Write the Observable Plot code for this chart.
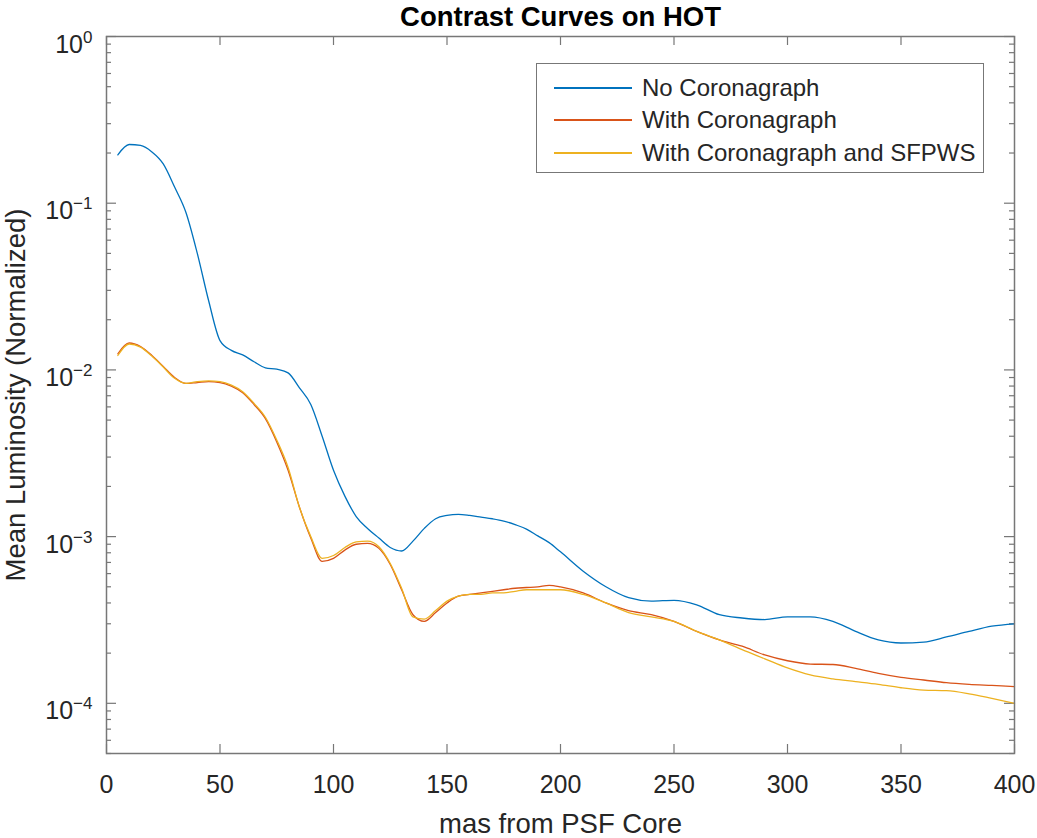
<!DOCTYPE html>
<html><head><meta charset="utf-8">
<script src="https://cdn.jsdelivr.net/npm/d3@7"></script>
<script src="https://cdn.jsdelivr.net/npm/@observablehq/plot@0.6"></script>
<style>
body{margin:0;background:#fff;}
#wrap{position:relative;width:1037px;height:838px;font-family:"Liberation Sans",Arial,sans-serif;}
#legend{position:absolute;left:536px;top:63px;width:446px;height:108px;border:1.5px solid #777;background:#fff;}
.row{position:absolute;left:0;height:30px;display:flex;align-items:center;white-space:nowrap;}
.sw{display:inline-block;width:78px;height:1.3px;margin-left:17px;margin-right:10px;}
.lab{font-size:24px;color:#262626;}
</style>
</head><body>
<div id="wrap"><div id="legend"></div></div>
<script>
// ---- data ----
const mas = [5,10,15,20,25,30,35,40,45,50,55,60,65,70,75,80,85,90,95,100,
  105,110,115,120,125,130,135,140,145,150,155,160,165,170,175,180,185,190,195,200,
  210,220,230,240,250,260,270,280,290,300,310,320,330,340,350,360,370,380,390,400];
const noCoronagraph = [0.195,0.225,0.222,0.203,0.172,0.125,0.088,0.050,0.026,0.015,
  0.0131,0.0123,0.0112,0.0103,0.0101,0.0096,0.0078,0.0062,0.0040,0.0025,
  0.00175,0.00132,0.00112,0.00098,0.00086,0.00082,0.00094,0.00112,0.00128,0.00134,
  0.00136,0.00134,0.00131,0.00128,0.00124,0.00118,0.00111,0.00101,0.00092,0.00081,
  0.00062,0.00050,0.00043,0.00041,0.000415,0.00039,0.00034,0.000325,0.000318,0.00033,
  0.00033,0.00031,0.00027,0.00024,0.00023,0.000233,0.00025,0.00027,0.00029,0.00030];
const withCoronagraph = [0.0125,0.0145,0.0138,0.0122,0.0105,0.0090,0.0083,0.0084,0.0085,0.0084,
  0.0080,0.0073,0.0062,0.0051,0.0037,0.0025,0.0015,0.00098,0.00071,0.00074,
  0.00083,0.00090,0.00091,0.00085,0.00068,0.00048,0.00034,0.00031,0.00035,0.00040,
  0.00044,0.00045,0.00046,0.00047,0.00048,0.00049,0.000495,0.00050,0.00051,0.00050,
  0.00046,0.00040,0.00036,0.00034,0.00031,0.00027,0.00024,0.00022,0.000195,0.00018,
  0.000172,0.000171,0.000162,0.000151,0.000143,0.000138,0.000133,0.00013,0.000128,0.000126];
const withSFPWS = [0.0122,0.0143,0.0137,0.0121,0.0104,0.0089,0.0083,0.0085,0.0086,0.0085,
  0.0081,0.0074,0.0063,0.0052,0.0038,0.0026,0.0015,0.00100,0.00074,0.00077,
  0.00086,0.00093,0.00094,0.00087,0.00069,0.00049,0.00033,0.00032,0.00036,0.00041,
  0.00044,0.00045,0.00045,0.00046,0.00046,0.00047,0.00048,0.00048,0.00048,0.00048,
  0.00045,0.00040,0.00035,0.00033,0.00031,0.00027,0.00024,0.00021,0.000185,0.000163,
  0.000148,0.00014,0.000135,0.00013,0.000124,0.00012,0.000119,0.000114,0.000107,0.0001];
const seriesNames = ["No Coronagraph","With Coronagraph","With Coronagraph and SFPWS"];
const seriesColors = ["#0072BD","#D95319","#EDB120"];
const seriesValues = [noCoronagraph, withCoronagraph, withSFPWS];
const xTicks = [0,50,100,150,200,250,300,350,400];
const yTicks = [1,0.1,0.01,0.001,0.0001];
const yDomain = [5e-5, 1];
const xDomain = [0, 400];
const title = "Contrast Curves on HOT";
const xLabel = "mas from PSF Core";
const yLabel = "Mean Luminosity (Normalized)";

// ---- layout ----
const W = 1037, H = 838, mT = 36, mB = 85, mL = 106, mR = 23;
const pw = W - mL - mR, ph = H - mT - mB;
const axisColor = "#777";
const minor = [];
for (let e = -5; e < 0; e++) for (let k = 2; k <= 9; k++) {
  const v = k * Math.pow(10, e);
  if (v >= yDomain[0] && v <= yDomain[1]) minor.push(v);
}

const chart = Plot.plot({
  width: W, height: H,
  marginTop: mT, marginBottom: mB, marginLeft: mL, marginRight: mR,
  style: {fontFamily: "'Liberation Sans', Arial, sans-serif", fontSize: "25px", color: "#262626", background: "transparent", overflow: "visible"},
  x: {domain: xDomain},
  y: {type: "log", domain: yDomain},
  marks: [
    Plot.tickY(minor, {y: d => d, insetRight: pw - 5, stroke: axisColor, strokeWidth: 1.2}),
    Plot.tickY(minor, {y: d => d, insetLeft: pw - 5, stroke: axisColor, strokeWidth: 1.2}),
    Plot.tickY(yTicks, {y: d => d, insetRight: pw - 10, stroke: axisColor, strokeWidth: 1.2}),
    Plot.tickY(yTicks, {y: d => d, insetLeft: pw - 10, stroke: axisColor, strokeWidth: 1.2}),
    Plot.tickX(xTicks, {x: d => d, insetTop: ph - 9, stroke: axisColor, strokeWidth: 1.2}),
    Plot.tickX(xTicks, {x: d => d, insetBottom: ph - 9, stroke: axisColor, strokeWidth: 1.2}),
    ...seriesValues.map((vals, i) => Plot.line(mas, {x: mas, y: vals, stroke: seriesColors[i], strokeWidth: 1.3, curve: "monotone-x"})),
    Plot.frame({stroke: axisColor, strokeWidth: 1.5}),
    Plot.axisX({ticks: xTicks, tickSize: 0, tickPadding: 22, fontSize: 25, label: null, tickFormat: d => String(d)}),
    Plot.axisY({ticks: yTicks, tickSize: 0, tickPadding: 14, fontSize: 25, label: null, tickFormat: d => String(Math.round(Math.log10(d)))}),
    Plot.text([title], {text: d => d, frameAnchor: "top", lineAnchor: "middle", textAnchor: "middle", dy: -19, fontSize: 27.5, fontWeight: "bold", fill: "#000"}),
    Plot.text([xLabel], {text: d => d, frameAnchor: "bottom", lineAnchor: "middle", textAnchor: "middle", dy: 71, fontSize: 27.5, fill: "#262626"}),
    Plot.text([yLabel], {text: d => d, frameAnchor: "left", lineAnchor: "middle", textAnchor: "middle", dx: -90, rotate: -90, fontSize: 27.5, fill: "#262626"})
  ]
});

// superscript exponents on the log axis
chart.querySelectorAll('g[aria-label="y-axis tick label"] text').forEach(t => {
  const exp = t.textContent.replace("-", "\u2212");
  t.textContent = "";
  const ns = "http://www.w3.org/2000/svg";
  const a = document.createElementNS(ns, "tspan");
  a.setAttribute("dy", "8"); a.textContent = "10";
  const b = document.createElementNS(ns, "tspan");
  b.setAttribute("dy", "-10"); b.setAttribute("font-size", "17"); b.textContent = exp;
  t.appendChild(a); t.appendChild(b);
});

const wrap = document.getElementById("wrap");
wrap.insertBefore(chart, wrap.firstChild);

const legend = document.getElementById("legend");
const rowCenters = [24, 56, 89];
seriesNames.forEach((name, i) => {
  const row = document.createElement("div");
  row.className = "row";
  row.style.top = (rowCenters[i] - 15) + "px";
  row.innerHTML = `<span class="sw" style="background:${seriesColors[i]}"></span><span class="lab">${name}</span>`;
  legend.appendChild(row);
});
</script>
</body></html>
